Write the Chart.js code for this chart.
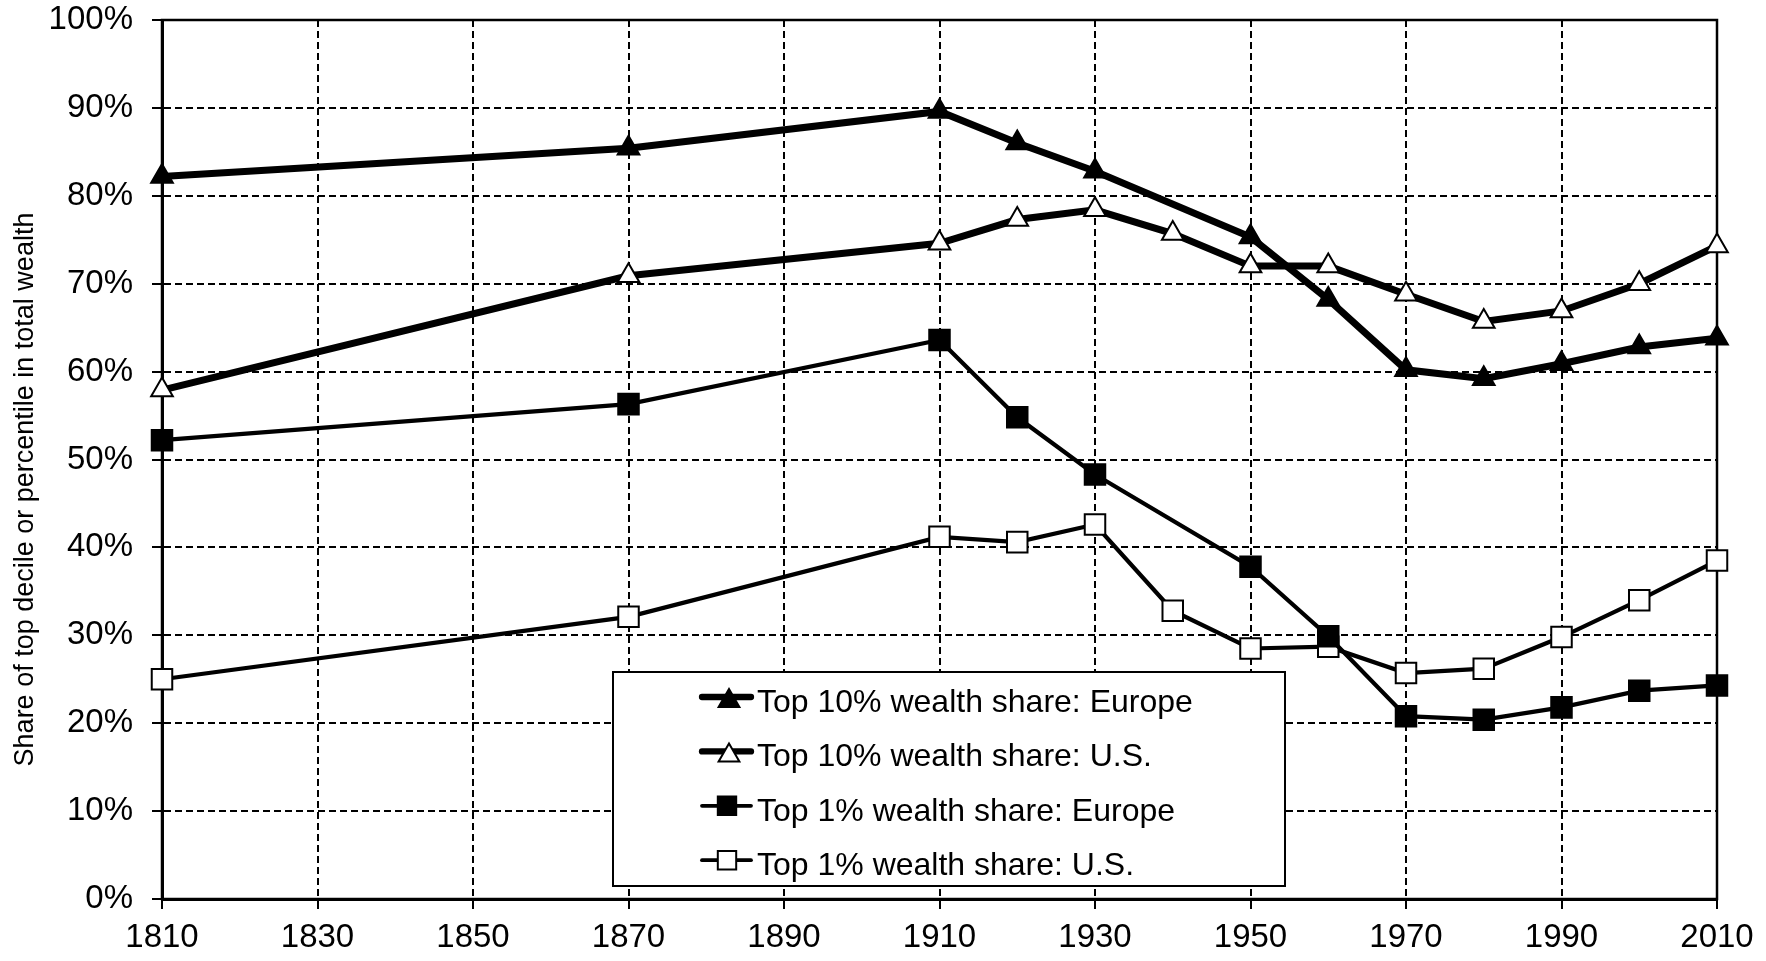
<!DOCTYPE html>
<html>
<head>
<meta charset="utf-8">
<script src="https://cdn.jsdelivr.net/npm/chart.js@4.4.1/dist/chart.umd.min.js"></script>
<style>
  html, body { margin: 0; padding: 0; background: #fff; }
  #wrap { position: relative; width: 1766px; height: 961px; }
</style>
</head>
<body>
<div id="wrap"><canvas id="chartWealth"></canvas></div>
<script>
// ── DATA ─────────────────────────────────────────────────────────
const yearsEurope = [1810, 1870, 1910, 1920, 1930, 1950, 1960, 1970, 1980, 1990, 2000, 2010];
const yearsUS     = [1810, 1870, 1910, 1920, 1930, 1940, 1950, 1960, 1970, 1980, 1990, 2000, 2010];

const top10Europe = [82.2, 85.4, 89.6, 86.0, 82.8, 75.3, 68.2, 60.2, 59.2, 60.9, 62.8, 63.8];
const top10US     = [57.9, 70.9, 74.6, 77.3, 78.4, 75.7, 72.0, 72.0, 68.8, 65.7, 66.9, 70.0, 74.3];
const top1Europe  = [52.2, 56.3, 63.6, 54.8, 48.3, 37.8, 29.9, 20.8, 20.4, 21.8, 23.7, 24.3];
const top1US      = [25.0, 32.1, 41.2, 40.6, 42.6, 32.8, 28.5, 28.7, 25.7, 26.2, 29.8, 34.0, 38.5];

const seriesLabels = [
  "Top 10% wealth share: Europe",
  "Top 10% wealth share: U.S.",
  "Top 1% wealth share: Europe",
  "Top 1% wealth share: U.S.",
];

const xTicks = { min: 1810, max: 2010, step: 20 };
const yTicks = { min: 0, max: 100, step: 10 };
const yTitle = "Share of top decile or percentile in total wealth";

const FONT = "'Liberation Sans', Arial, sans-serif";
const pts = (xs, ys) => xs.map((x, i) => ({ x, y: ys[i] }));

// ── PLUGINS ──────────────────────────────────────────────────────
// solid frame round the plot area (top & right edges are solid in the original)
const frame = {
  id: "frame",
  beforeDatasetsDraw(chart) {
    const { ctx, chartArea: a } = chart;
    ctx.save();
    ctx.strokeStyle = "#000";
    ctx.lineWidth = 2.5;
    ctx.strokeRect(a.left, a.top, a.right - a.left, a.bottom - a.top);
    ctx.restore();
  },
};

// y axis title, sits a little below the middle of the axis in the original
const sideTitle = {
  id: "sideTitle",
  afterDraw(chart) {
    const { ctx, chartArea: a } = chart;
    ctx.save();
    ctx.translate(26, (a.top + a.bottom) / 2 + 30);
    ctx.rotate(-Math.PI / 2);
    ctx.font = "27px " + FONT;
    ctx.fillStyle = "#000";
    ctx.textAlign = "center";
    ctx.textBaseline = "middle";
    ctx.fillText(yTitle, 0, 0);
    ctx.restore();
  },
};

// boxed legend sitting inside the plot
const boxLegend = {
  id: "boxLegend",
  afterDatasetsDraw(chart) {
    const { ctx, chartArea: a } = chart;
    const x0 = a.left + 451, y0 = a.top + 652, w = 672, h = 214;
    ctx.save();
    ctx.fillStyle = "#fff";
    ctx.fillRect(x0, y0, w, h);
    ctx.strokeStyle = "#000";
    ctx.lineWidth = 2;
    ctx.strokeRect(x0, y0, w, h);

    ctx.font = "32px " + FONT;
    ctx.textBaseline = "middle";
    ctx.textAlign = "left";

    chart.data.datasets.forEach((ds, i) => {
      const ly = y0 + 25 + i * 54.4;   // sample line
      const tri = ds.pointStyle === "triangle";

      ctx.strokeStyle = "#000";
      ctx.lineWidth = ds.borderWidth * 0.9;
      ctx.lineCap = "round";
      ctx.beginPath();
      ctx.moveTo(x0 + 89, ly);
      ctx.lineTo(x0 + 138, ly);
      ctx.stroke();

      ctx.fillStyle = ds.pointBackgroundColor;
      ctx.lineWidth = 2;
      Chart.helpers.drawPoint(ctx, {
        pointStyle: ds.pointStyle,
        radius: tri ? 12 : 13,
        borderWidth: 2,
        rotation: 0,
      }, x0 + (tri ? 116 : 114), ly + (tri ? 4 : 0));

      ctx.fillStyle = "#000";
      ctx.fillText(ds.label, x0 + 144, ly + 6);
    });
    ctx.restore();
  },
};

// ── CHART ────────────────────────────────────────────────────────
(function () {
  const ctx = document.getElementById("chartWealth").getContext("2d");

  const common = {
    borderColor: "#000",
    pointBorderColor: "#000",
    pointBorderWidth: 2,
    tension: 0,
    clip: false,
  };

  const gridStyle = {
    color: "#000",
    lineWidth: 2,
    tickLength: 10,
    tickColor: "#000",
    tickWidth: 2,
    tickBorderDash: [],
  };

  new Chart(ctx, {
    type: "line",
    data: {
      datasets: [
        { ...common, label: seriesLabels[0], data: pts(yearsEurope, top10Europe),
          borderWidth: 7, pointStyle: "triangle", pointRadius: 12.5, pointBackgroundColor: "#000" },
        { ...common, label: seriesLabels[1], data: pts(yearsUS, top10US),
          borderWidth: 7, pointStyle: "triangle", pointRadius: 12.5, pointBackgroundColor: "#fff" },
        { ...common, label: seriesLabels[2], data: pts(yearsEurope, top1Europe),
          borderWidth: 4.2, pointStyle: "rect", pointRadius: 14.5, pointBackgroundColor: "#000" },
        { ...common, label: seriesLabels[3], data: pts(yearsUS, top1US),
          borderWidth: 4.2, pointStyle: "rect", pointRadius: 14.5, pointBackgroundColor: "#fff" },
      ],
    },
    options: {
      responsive: true,
      maintainAspectRatio: false,
      animation: false,
      layout: { padding: { top: 20, right: 49, left: 0, bottom: 0 } },
      plugins: {
        legend: { display: false },
        tooltip: { enabled: false },
      },
      scales: {
        x: {
          type: "linear",
          min: xTicks.min,
          max: xTicks.max,
          afterFit: s => { s.height = 62; s.paddingLeft = 0; s.paddingRight = 0; },
          ticks: {
            stepSize: xTicks.step,
            color: "#000",
            padding: 9,
            maxRotation: 0,
            font: { family: FONT, size: 33 },
            callback: v => String(v),
          },
          grid: gridStyle,
          border: { display: true, color: "#000", width: 3, dash: [7, 4] },
        },
        y: {
          min: yTicks.min,
          max: yTicks.max,
          afterFit: s => { s.width = 162; s.paddingTop = 0; s.paddingBottom = 0; },
          ticks: {
            stepSize: yTicks.step,
            color: "#000",
            padding: 19,
            font: { family: FONT, size: 33 },
            callback: v => v + "%",
          },
          grid: gridStyle,
          border: { display: true, color: "#000", width: 3, dash: [7, 4] },
        },
      },
    },
    plugins: [frame, boxLegend, sideTitle],
  });
})();
</script>
</body>
</html>
